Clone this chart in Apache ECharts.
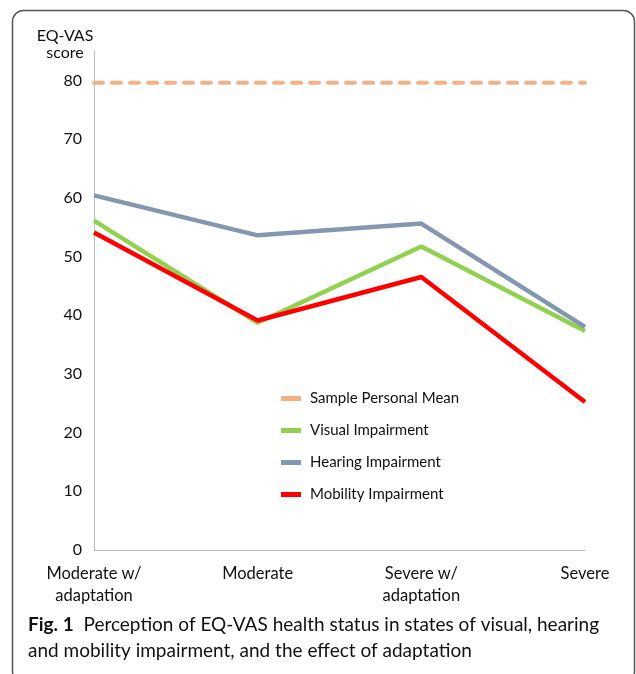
<!DOCTYPE html>
<html>
<head>
<meta charset="utf-8">
<script src="https://cdn.jsdelivr.net/npm/echarts@6/dist/echarts.min.js"></script>
<style>
html,body{margin:0;padding:0;background:#fff;}
#chart{width:636px;height:674px;}
</style>
</head>
<body>
<div id="chart"></div>
<script>
const categories = ['Moderate w/\nadaptation', 'Moderate', 'Severe w/\nadaptation', 'Severe'];
const sampleMean = [79.6, 79.6, 79.6, 79.6];
const visual = [56.1, 38.7, 51.7, 37.3];
const hearing = [60.4, 53.6, 55.6, 38.0];
const mobility = [54.1, 39.1, 46.5, 25.2];
const yTicks = [0, 10, 20, 30, 40, 50, 60, 70, 80];

const FONT = 'Lato';
const chart = echarts.init(document.getElementById('chart'), null, {renderer: 'canvas'});
chart.setOption({
  animation: false,
  backgroundColor: '#fff',
  grid: {left: 94, right: 51, top: 51, bottom: 124, outerBoundsMode: 'none', containLabel: false},
  xAxis: {
    type: 'category',
    data: categories,
    boundaryGap: false,
    axisLine: {lineStyle: {color: '#BFBFBF', width: 1}},
    axisTick: {show: false},
    axisLabel: {color: '#111', fontFamily: FONT, fontSize: 16.5, lineHeight: 22, margin: 13, interval: 0}
  },
  yAxis: {
    type: 'value',
    min: 0, max: 85, interval: 10,
    axisLine: {show: true, lineStyle: {color: '#BFBFBF', width: 1}},
    axisTick: {show: false},
    splitLine: {show: false},
    axisLabel: {color: '#111', fontFamily: FONT, fontSize: 16, margin: 12,
      formatter: v => yTicks.indexOf(v) >= 0 ? String(v) : ''}
  },
  legend: {
    orient: 'vertical',
    left: 276, top: 386,
    itemGap: 17,
    itemWidth: 20, itemHeight: 5,
    textStyle: {fontFamily: FONT, fontSize: 15, color: '#111', padding: [0, 0, 0, 4]},
    data: [
      {name: 'Sample Personal Mean', icon: 'rect', itemStyle: {color: '#F4B183'}},
      {name: 'Visual Impairment', icon: 'rect', itemStyle: {color: '#92D050'}},
      {name: 'Hearing Impairment', icon: 'rect', itemStyle: {color: '#8497B0'}},
      {name: 'Mobility Impairment', icon: 'rect', itemStyle: {color: '#FF0000'}}
    ]
  },
  series: [
    {name: 'Sample Personal Mean', type: 'line', data: sampleMean, showSymbol: false, symbol: 'none',
      lineStyle: {color: '#F4B183', width: 4, type: [9, 9], cap: 'round'}, itemStyle: {color: '#F4B183'}},
    {name: 'Visual Impairment', type: 'line', data: visual, showSymbol: false, symbol: 'none',
      lineStyle: {color: '#92D050', width: 4.5}, itemStyle: {color: '#92D050'}},
    {name: 'Hearing Impairment', type: 'line', data: hearing, showSymbol: false, symbol: 'none',
      lineStyle: {color: '#8497B0', width: 4.5}, itemStyle: {color: '#8497B0'}},
    {name: 'Mobility Impairment', type: 'line', data: mobility, showSymbol: false, symbol: 'none',
      lineStyle: {color: '#FF0000', width: 4.5}, itemStyle: {color: '#FF0000'}}
  ],
  graphic: [
    {type: 'rect', shape: {x: 12.5, y: 10.5, width: 622, height: 672, r: 11},
      style: {fill: 'none', stroke: '#555', lineWidth: 1.5}, silent: true, z: 100},
    {type: 'text', x: 65, y: 27, style: {text: 'EQ-VAS\nscore', fill: '#111', font: '16px Lato', textAlign: 'center', lineHeight: 17}},
    {type: 'text', x: 28, y: 612, style: {
      rich: {b: {fontFamily: FONT, fontWeight: 'bold', fontSize: 19, fill: '#111'},
             n: {fontFamily: FONT, fontSize: 19, fill: '#111'}},
      text: '{b|Fig. 1}{n|  Perception of EQ-VAS health status in states of visual, hearing}\n{n|and mobility impairment, and the effect of adaptation}',
      lineHeight: 26, fill: '#111', font: '19px Lato'}}
  ]
});
</script>
</body>
</html>
